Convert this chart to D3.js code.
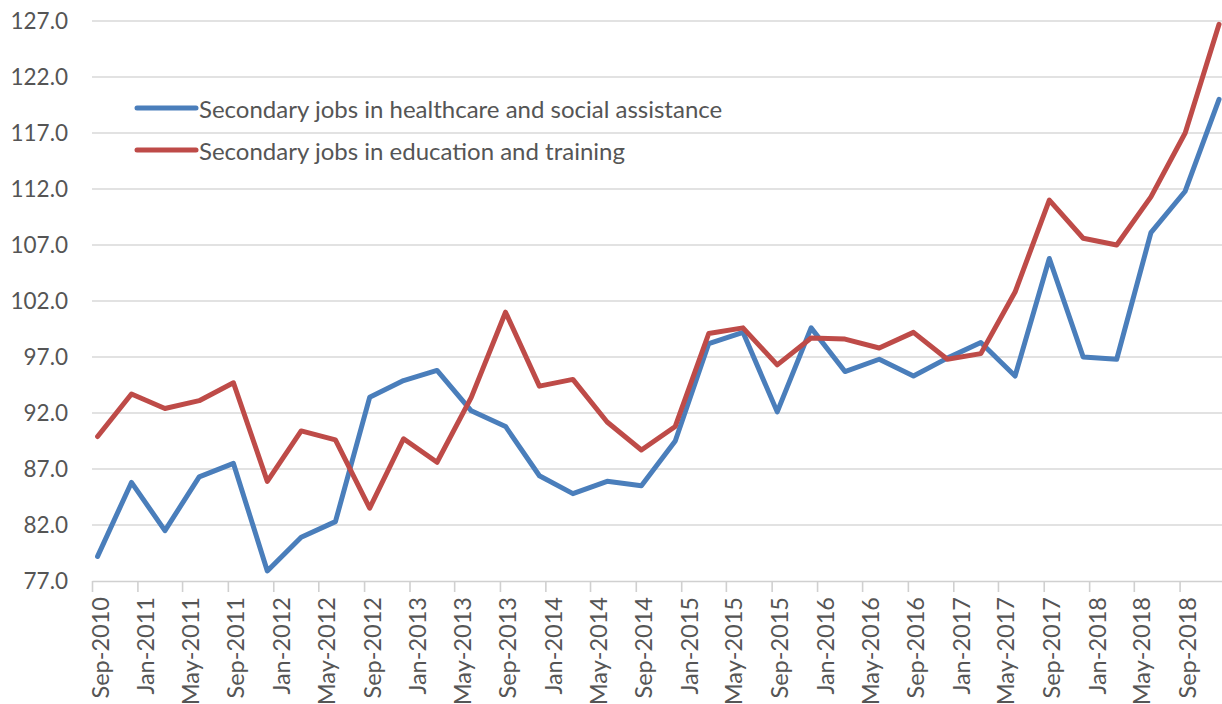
<!DOCTYPE html>
<html><head><meta charset="utf-8">
<script src="https://cdn.jsdelivr.net/npm/d3@7"></script>
<style>html,body{margin:0;padding:0;background:#fff;}svg{display:block;}</style>
</head><body><svg id="chart" width="1222" height="704"></svg>
<script>
const quarters = ["Sep-2010","Dec-2010","Mar-2011","Jun-2011","Sep-2011","Dec-2011","Mar-2012","Jun-2012","Sep-2012","Dec-2012","Mar-2013","Jun-2013","Sep-2013","Dec-2013","Mar-2014","Jun-2014","Sep-2014","Dec-2014","Mar-2015","Jun-2015","Sep-2015","Dec-2015","Mar-2016","Jun-2016","Sep-2016","Dec-2016","Mar-2017","Jun-2017","Sep-2017","Dec-2017","Mar-2018","Jun-2018","Sep-2018","Dec-2018"];
const healthcare = [79.2,85.8,81.5,86.3,87.5,77.9,80.9,82.3,93.4,94.9,95.8,92.2,90.8,86.4,84.8,85.9,85.5,89.5,98.2,99.2,92.1,99.6,95.7,96.8,95.3,96.9,98.3,95.3,105.8,97.0,96.8,108.1,111.8,120.0];
const education = [89.9,93.7,92.4,93.1,94.7,85.9,90.4,89.6,83.5,89.7,87.6,93.4,101.0,94.4,95.0,91.2,88.7,90.8,99.1,99.6,96.3,98.7,98.6,97.8,99.2,96.8,97.3,102.8,111.0,107.6,107.0,111.3,117.0,126.7];
const yTicks = [77,82,87,92,97,102,107,112,117,122,127];
const seriesNames = ["Secondary jobs in healthcare and social assistance","Secondary jobs in education and training"];
const seriesColors = ["#4A7EBB","#BE4B48"];

const svg = d3.select("#chart");
svg.append("rect").attr("width",1222).attr("height",704).attr("fill","#fff");
const font = "Lato, 'Open Sans', sans-serif";
const parse = d3.timeParse("%b-%Y");
const fmt = d3.timeFormat("%b-%Y");
const midMonth = d => d3.timeDay.offset(parse(d), 15);

const x = d3.scaleTime().domain([new Date(2010,8,1), new Date(2019,0,1)]).range([92,1225]);
const y = d3.scaleLinear().domain([77,127]).range([581,21]);

// gridlines
svg.append("g").selectAll("line").data(yTicks.slice(1)).join("line")
  .attr("x1",92).attr("x2",1225).attr("y1",d=>y(d)).attr("y2",d=>y(d))
  .attr("stroke","#d9d9d9").attr("stroke-width",1.6);

// y axis labels
const yAxis = svg.append("g").attr("transform","translate(92,0)")
  .call(d3.axisLeft(y).tickValues(yTicks).tickFormat(d3.format(".1f")).tickSize(0).tickPadding(24));
yAxis.select(".domain").remove();
yAxis.selectAll("text").attr("fill","#555").style("font-family",font).style("font-size","22.5px");

// x axis
const xTicks = d3.timeMonth.every(4).range(new Date(2010,8,1), new Date(2019,0,1));
const xAxis = svg.append("g").attr("transform","translate(0,581)")
  .call(d3.axisBottom(x).tickValues(xTicks).tickFormat(fmt).tickSize(11).tickSizeOuter(0));
xAxis.select(".domain").attr("stroke","#d0d0d0").attr("stroke-width",1.6);
xAxis.selectAll(".tick line").attr("stroke","#d0d0d0").attr("stroke-width",1.6);
xAxis.selectAll("text")
  .attr("fill","#555").style("font-family",font).style("font-size","23.5px")
  .attr("text-anchor","end").attr("dy",null).attr("y",null)
  .attr("transform","translate(7,16) rotate(-90)")
  .attr("dominant-baseline","central");

// lines
const line = d3.line().x((d,i)=>x(midMonth(quarters[i]))).y(d=>y(d));
[healthcare, education].forEach((s,k)=>{
  svg.append("path").datum(s).attr("d",line).attr("fill","none")
    .attr("stroke",seriesColors[k]).attr("stroke-width",5)
    .attr("stroke-linejoin","round").attr("stroke-linecap","round");
});

// legend
const leg = svg.append("g");
seriesNames.forEach((n,k)=>{
  const yy = 108 + k*42;
  leg.append("line").attr("x1",137).attr("x2",196).attr("y1",yy).attr("y2",yy)
    .attr("stroke",seriesColors[k]).attr("stroke-width",5).attr("stroke-linecap","round");
  leg.append("text").attr("x",199).attr("y",yy).attr("dominant-baseline","central")
    .attr("fill","#555").style("font-family",font).style("font-size","24px").text(n);
});
</script></body></html>
